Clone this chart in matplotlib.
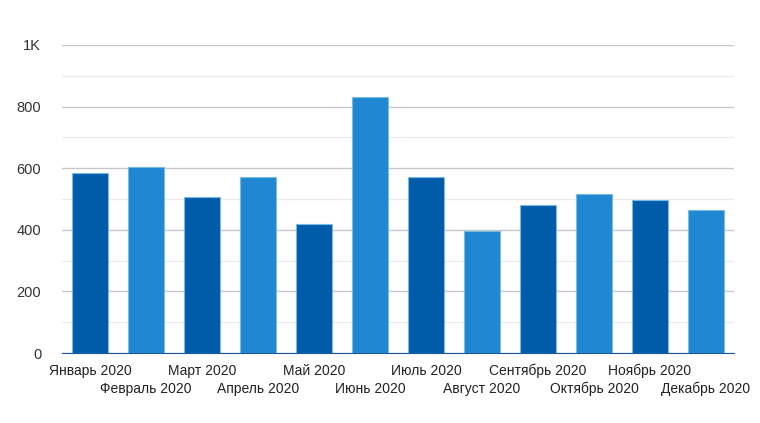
import numpy as np
import matplotlib.pyplot as plt

months = ["Январь 2020", "Февраль 2020", "Март 2020", "Апрель 2020", "Май 2020", "Июнь 2020",
          "Июль 2020", "Август 2020", "Сентябрь 2020", "Октябрь 2020", "Ноябрь 2020", "Декабрь 2020"]
values = [583, 604, 505, 570, 419, 831, 573, 396, 479, 516, 497, 464]
yticks = [0, 200, 400, 600, 800, 1000]
ylabels = ["0", "200", "400", "600", "800", "1K"]

plt.rcParams['font.family'] = ['Liberation Sans', 'DejaVu Sans']

fig = plt.figure(figsize=(7.6, 4.23), dpi=100)
ax = fig.add_axes([62/760, 1-353/423, 672/760, 308/423])

x = np.arange(len(months))
colors = ["#005ca9" if i % 2 == 0 else "#1e88d2" for i in range(len(months))]
ax.bar(x, values, width=0.64, color=colors, edgecolor="#7ab8e6", linewidth=0.8, zorder=3)

ax.set_xlim(-0.5, len(months) - 0.5)
ax.set_ylim(0, 1000)
ax.set_yticks(yticks)
ax.set_yticklabels(ylabels, fontsize=10.5, color="#333333")
ax.set_yticks([100, 300, 500, 700, 900], minor=True)
ax.grid(axis="y", which="major", color="#c8c8c8", linewidth=1, zorder=0)
ax.grid(axis="y", which="minor", color="#ebebeb", linewidth=1, zorder=0)
ax.tick_params(axis="y", which="both", length=0, pad=15)

# month labels staggered on two rows
ax.set_xticks(x)
ax.set_xticklabels([])
ax.tick_params(axis="x", length=0)
for i, m in enumerate(months):
    off = -18 if i % 2 == 0 else -36
    ax.annotate(m, (i, 0), xytext=(0, off), textcoords="offset pixels",
                ha="center", va="center", fontsize=10, color="#222222", annotation_clip=False)

for s in ["top", "right", "left"]:
    ax.spines[s].set_visible(False)
ax.spines["bottom"].set_color("#1a5a9a")
ax.spines["bottom"].set_zorder(4)

fig.savefig("out.png", dpi=100)
